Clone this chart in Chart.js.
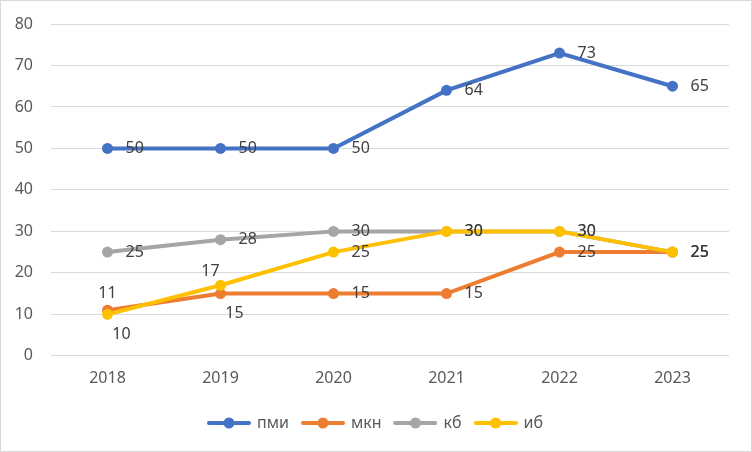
<!DOCTYPE html>
<html>
<head>
<meta charset="utf-8">
<script src="https://cdn.jsdelivr.net/npm/chart.js@4.4.1/dist/chart.umd.min.js"></script>
<style>
  body { margin: 0; background: #fff; }
  #wrap { width: 750px; height: 450px; border: 1px solid #d9d9d9; position: relative; }
</style>
</head>
<body>
<div id="wrap"><canvas id="chart"></canvas></div>
<script>
const years = ['2018', '2019', '2020', '2021', '2022', '2023'];
const pmi = [50, 50, 50, 64, 73, 65];
const mkn = [11, 15, 15, 15, 25, 25];
const kb = [25, 28, 30, 30, 30, 25];
const ib = [10, 17, 25, 30, 30, 25];
const yTicks = [0, 10, 20, 30, 40, 50, 60, 70, 80];

// where each value label sits relative to its point
const placeOffsets = {
  r: { dx: 18, dy: 0, align: 'left' },
  a: { dx: 0, dy: -17, align: 'center' },
  al: { dx: -10, dy: -14, align: 'center' },
  b: { dx: 14, dy: 20, align: 'center' }
};

function legendIcon(color) {
  const c = document.createElement('canvas');
  c.width = 44; c.height = 12;
  const g = c.getContext('2d');
  g.strokeStyle = color; g.lineWidth = 4; g.lineCap = 'round';
  g.beginPath(); g.moveTo(2, 6); g.lineTo(42, 6); g.stroke();
  g.fillStyle = color;
  g.beginPath(); g.arc(22, 6, 5.5, 0, Math.PI * 2); g.fill();
  return c;
}

function series(label, data, color, order, places) {
  return {
    label: label,
    data: data,
    borderColor: color,
    backgroundColor: color,
    borderWidth: 4,
    pointRadius: 5.5,
    pointHoverRadius: 5.5,
    pointBorderWidth: 0,
    pointStyle: 'circle',
    tension: 0,
    order: order,
    labelPlaces: places,
    legendIcon: legendIcon(color)
  };
}

const valueLabels = {
  id: 'valueLabels',
  afterDatasetsDraw(chart) {
    const ctx = chart.ctx;
    ctx.save();
    ctx.font = '16px "Noto Sans"';
    ctx.fillStyle = '#404040';
    ctx.textBaseline = 'middle';
    chart.data.datasets.forEach((ds, di) => {
      const meta = chart.getDatasetMeta(di);
      meta.data.forEach((pt, i) => {
        const p = placeOffsets[ds.labelPlaces[i]];
        ctx.textAlign = p.align;
        ctx.fillText(String(ds.data[i]), pt.x + p.dx, pt.y + p.dy);
      });
    });
    ctx.restore();
  }
};

new Chart(document.getElementById('chart'), {
  type: 'line',
  data: {
    labels: years,
    datasets: [
      series('пми', pmi, '#4472C4', 3, ['r', 'r', 'r', 'r', 'r', 'r']),
      series('мкн', mkn, '#ED7D31', 2, ['a', 'b', 'r', 'r', 'r', 'r']),
      series('кб', kb, '#A5A5A5', 1, ['r', 'r', 'r', 'r', 'r', 'r']),
      series('иб', ib, '#FFC000', 0, ['b', 'al', 'r', 'r', 'r', 'r'])
    ]
  },
  options: {
    responsive: true,
    maintainAspectRatio: false,
    animation: false,
    layout: { padding: { top: 23, right: 0, bottom: 10, left: 0 } },
    scales: {
      x: {
        offset: true,
        grid: { display: false, drawTicks: false },
        border: { display: false },
        ticks: { color: '#595959', font: { family: 'Noto Sans', size: 16 }, padding: 13 }
      },
      y: {
        min: 0,
        max: 80,
        afterBuildTicks(scale) { scale.ticks = yTicks.map(v => ({ value: v })); },
        afterFit(scale) {
          scale.width = 50;
          scale.paddingTop = 0;
          scale.paddingBottom = 0;
        },
        grid: { color: '#d9d9d9', lineWidth: 1, drawTicks: false },
        border: { display: false },
        ticks: { color: '#595959', font: { family: 'Noto Sans', size: 16 }, padding: 18 }
      },
      // empty right gutter so the legend stays centred on the whole chart
      gutter: {
        position: 'right',
        min: 0,
        max: 80,
        afterFit(scale) { scale.width = 22; },
        grid: { display: false, drawTicks: false },
        border: { display: false },
        ticks: { display: false }
      }
    },
    plugins: {
      tooltip: { enabled: false },
      legend: {
        position: 'bottom',
        labels: {
          usePointStyle: true,
          pointStyleWidth: 40,
          padding: 14,
          color: '#595959',
          font: { family: 'Noto Sans', size: 16 },
          sort: (a, b) => a.datasetIndex - b.datasetIndex,
          generateLabels(chart) {
            const items = Chart.defaults.plugins.legend.labels.generateLabels(chart);
            items.forEach(it => { it.pointStyle = chart.data.datasets[it.datasetIndex].legendIcon; });
            return items;
          }
        }
      }
    }
  },
  plugins: [valueLabels]
});
</script>
</body>
</html>
